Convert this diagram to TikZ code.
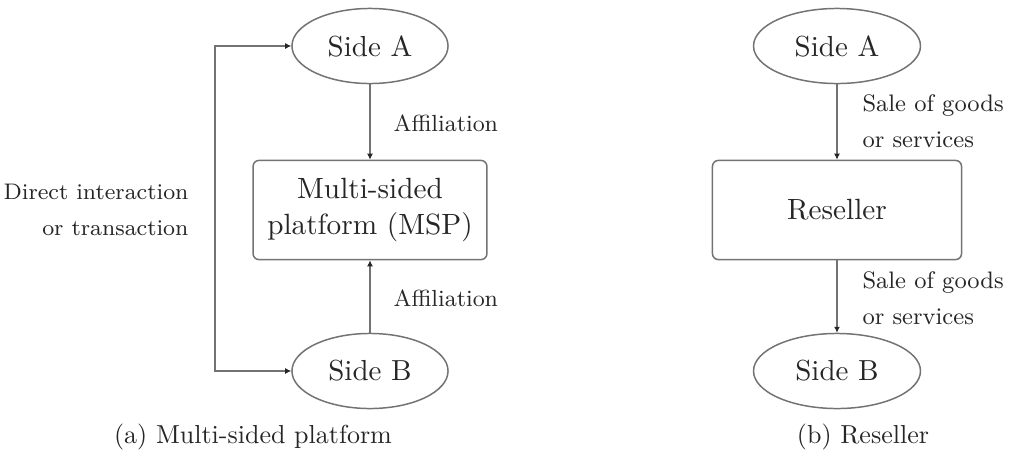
\documentclass[tikz,border=0pt]{standalone}
\usetikzlibrary{shapes.geometric,arrows.meta}
\begin{document}
\begin{tikzpicture}[x=0.369pt,y=-0.369pt,
  every node/.style={text=black!85},
  line/.style={draw=black!55,line width=0.55pt},
  arr/.style={line,-{Latex[length=2.2pt,width=2.2pt,black!85]}},
  darr/.style={line,{Latex[length=2.2pt,width=2.2pt,black!85]}-{Latex[length=2.2pt,width=2.2pt,black!85]}},
  side/.style={ellipse,line,inner sep=0pt,minimum height=27.7pt,font=\fontsize{10.7}{12}\selectfont},
  plat/.style={rectangle,rounded corners=2.2pt,line,inner sep=0pt,minimum height=36.6pt,align=center,font=\fontsize{10.8}{13.6}\selectfont},
  lab/.style={inner sep=0pt,font=\fontsize{8.6}{13.4}\selectfont},
  captext/.style={inner sep=0pt,font=\fontsize{9.6}{12}\selectfont}]
\useasboundingbox (0,0) rectangle (1011,455);
% (a) Multi-sided platform
\node[side,minimum width=57.6pt] (sa) at (370,46) {Side A};
\node[plat,minimum width=86.3pt] (msp) at (370,210) {Multi-sided\\platform (MSP)};
\node[side,minimum width=57.6pt] (sb) at (370,371) {Side B};
\draw[arr] (sa) -- (msp);
\draw[arr] (sb) -- (msp);
\node[lab,anchor=west] (af1) at (393,123) {Affiliation};
\node[lab,anchor=west] (af2) at (393,298) {Affiliation};
\coordinate (lt) at (215,46);
\coordinate (lb) at (215,371);
\draw[darr] (sa.west) -- (lt) -- (lb) -- (sb.west);
\node[lab,anchor=east,align=right,font=\fontsize{8.3}{13.4}\selectfont] (di) at (189,210) {Direct interaction\\or transaction};
\node[captext] (capa) at (253,437) {(a) Multi-sided platform};
% (b) Reseller
\node[side,minimum width=61.6pt] (ra) at (837,46) {Side A};
\node[plat,minimum width=91.9pt] (rs) at (837,210) {Reseller};
\node[side,minimum width=61.6pt] (rb) at (837,371) {Side B};
\draw[arr] (ra) -- (rs);
\draw[arr] (rs) -- (rb);
\node[lab,anchor=west,align=left,font=\fontsize{8.8}{13.4}\selectfont] (s1) at (862,121) {Sale of goods\\or services};
\node[lab,anchor=west,align=left,font=\fontsize{8.8}{13.4}\selectfont] (s2) at (862,298) {Sale of goods\\or services};
\node[captext] (capb) at (863,437) {(b) Reseller};
\end{tikzpicture}
\end{document}
